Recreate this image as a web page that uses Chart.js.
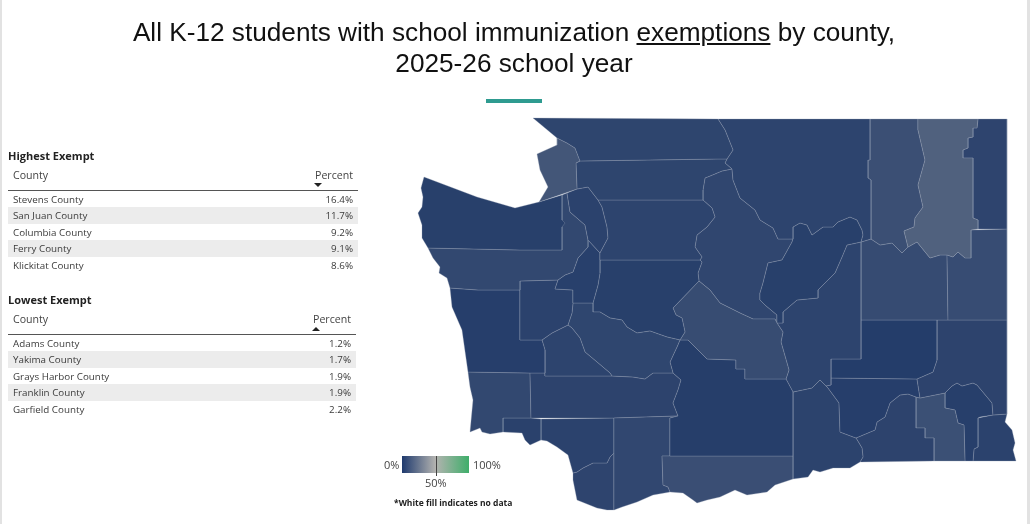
<!DOCTYPE html>
<html><head><meta charset="utf-8">
<script src="https://cdn.jsdelivr.net/npm/chart.js@4"></script>
<style>
html,body{margin:0;padding:0;background:#fff;width:1030px;height:524px;overflow:hidden;font-family:"Open Sans",sans-serif}
#frame{position:absolute;left:0;top:0;width:1030px;height:524px;box-sizing:border-box;border-left:2px solid #e2e2e2;border-right:3px solid #e2e2e2}
canvas{position:absolute;left:0;top:0}
.title{position:absolute;left:0;width:1028px;text-align:center;font-family:"Liberation Sans",sans-serif;font-size:26.2px;color:#111;line-height:32px}
#bar{position:absolute;left:486px;top:99px;width:56px;height:4px;background:#2e9b90}
.tbl{position:absolute;left:8px;color:#333;font-size:9.8px}
.tbl h3{margin:0;font-size:11px;color:#222;font-weight:700;line-height:14px}
.head{position:relative;height:27px;border-bottom:1px solid #555;font-size:10.6px;color:#444}
.head span{position:absolute;top:5px}
.head .c{left:5px}.head .p{right:5px}
.head i{position:absolute;right:36px;top:20px;width:0;height:0;border-left:4px solid transparent;border-right:4px solid transparent}
.row{position:relative;height:16.4px;line-height:18px;padding:0 5px;color:#3a3a3a}
.row:nth-of-type(even){background:#ececec}
.row b{position:absolute;right:5px;font-weight:400}
.leg{position:absolute;font-size:11px;color:#444}
#grad{position:absolute;left:402px;top:456px;width:67px;height:17px;background:linear-gradient(90deg,#1f3a6e,#b3b3b0 50%,#3fae6a)}
#tick{position:absolute;left:436px;top:456px;width:1px;height:20px;background:#444}
</style></head><body>
<div id="frame"></div>
<canvas id="map" width="1030" height="524"></canvas>
<div class="title" style="top:16px">All K-12 students with school immunization <u>exemptions</u> by county,</div>
<div class="title" style="top:47px">2025-26 school year</div>
<div id="bar"></div>
<div class="tbl" id="hi" style="top:149px;width:350px"></div>
<div class="tbl" id="lo" style="top:293px;width:348px"></div>
<div id="grad"></div><div id="tick"></div>
<div class="leg" style="left:384px;top:457px">0%</div>
<div class="leg" style="left:473px;top:457px">100%</div>
<div class="leg" style="left:425px;top:475px">50%</div>
<div class="leg" style="left:394px;top:497px;font-size:8.5px;font-weight:700;color:#222">*White fill indicates no data</div>
<script>
const highNames=["Stevens County","San Juan County","Columbia County","Ferry County","Klickitat County"];
const highValues=[16.4,11.7,9.2,9.1,8.6];
const lowNames=["Adams County","Yakima County","Grays Harbor County","Franklin County","Garfield County"];
const lowValues=[1.2,1.7,1.9,1.9,2.2];

const whatcom=[[533,118],[718,119],[725,130],[733,150],[727,159],[717,159],[580,161],[575,148],[567,143],[557,138]];
const sanJuan=[[557,138],[557,145],[537,154],[540,170],[548,187],[539,202],[577,189],[576,163],[580,161],[575,148],[567,143]];
const skagit=[[577,189],[576,163],[580,161],[717,159],[727,159],[725,163],[732,169],[722,171],[710,176],[705,178],[703,190],[703,200],[598,200],[588,187]];
const snohomish=[[598,200],[703,200],[712,208],[715,217],[707,227],[697,235],[695,247],[702,257],[700,260],[600,260],[600,253],[608,238],[607,227],[602,207]];
const island=[[577,189],[588,187],[598,200],[602,207],[607,227],[608,238],[600,253],[588,240],[585,225],[570,212],[567,193]];
const clallam=[[424,177],[477,197],[515,208],[539,202],[562,195],[562,220],[565,223],[562,227],[562,250],[520,250],[428,248],[422,238],[422,225],[418,213],[422,207],[423,197],[421,188]];
const jefferson=[[428,248],[520,250],[562,250],[562,195],[567,193],[570,212],[585,225],[588,240],[588,247],[578,258],[573,272],[565,275],[558,280],[520,281],[520,290],[478,290],[450,288],[447,278],[439,273],[440,267],[433,258]];
const kitsap=[[588,240],[600,253],[600,260],[600,273],[598,285],[593,303],[573,303],[573,290],[555,289],[558,280],[565,275],[573,272],[578,258],[588,247]];
const mason=[[520,281],[558,280],[555,289],[573,290],[573,303],[572,313],[568,325],[562,328],[552,333],[542,340],[520,340]];
const graysHarbor=[[450,288],[478,290],[520,290],[520,340],[542,340],[545,350],[545,373],[530,373],[468,372],[462,330],[452,307]];
const thurston=[[542,340],[552,333],[562,328],[568,325],[572,328],[580,338],[585,352],[597,362],[610,373],[612,376],[545,376],[545,350]];
const pierce=[[573,303],[593,303],[593,312],[600,312],[610,318],[622,320],[627,327],[637,333],[650,331],[667,337],[680,340],[677,347],[670,362],[673,373],[653,373],[645,379],[633,377],[612,376],[610,373],[597,362],[585,352],[580,338],[572,328],[568,325],[572,313]];
const king=[[600,260],[700,260],[702,262],[698,273],[699,281],[673,308],[676,315],[682,318],[685,332],[680,340],[667,337],[650,331],[637,333],[627,327],[622,320],[610,318],[600,312],[593,312],[593,303],[598,285],[600,273]];
const kittitas=[[699,281],[710,290],[720,303],[740,313],[753,319],[775,319],[777,323],[783,332],[781,342],[787,363],[789,370],[786,379],[745,379],[745,369],[736,369],[736,360],[707,359],[688,340],[680,340],[685,332],[682,318],[676,315],[673,308]];
const yakima=[[680,340],[688,340],[707,359],[736,360],[736,369],[745,369],[745,379],[786,379],[793,392],[793,456],[670,456],[670,418],[678,416],[673,403],[678,390],[681,380],[673,373],[670,362],[677,347]];
const klickitat=[[662,456],[793,456],[793,479],[775,485],[767,492],[747,495],[735,490],[720,497],[707,500],[697,503],[693,500],[683,493],[670,492],[668,487],[663,485]];
const skamania=[[614,418],[678,416],[670,418],[670,456],[662,456],[663,485],[668,487],[670,492],[653,495],[637,502],[622,507],[614,510]];
const lewis=[[530,373],[545,373],[545,376],[612,376],[633,377],[645,379],[653,373],[673,373],[681,380],[678,390],[673,403],[678,416],[614,418],[531,418]];
const pacific=[[468,372],[530,373],[531,418],[503,418],[503,432],[490,434],[482,432],[480,428],[470,432],[473,400],[470,387]];
const wahkiakum=[[503,418],[531,418],[541,419],[541,440],[530,445],[525,440],[522,433],[503,432]];
const cowlitz=[[541,419],[614,418],[614,453],[610,457],[607,463],[593,463],[583,468],[577,472],[573,473],[568,455],[557,447],[547,441],[541,440]];
const clark=[[614,453],[614,510],[607,510],[597,508],[577,500],[575,490],[573,480],[573,473],[577,472],[583,468],[593,463],[607,463],[610,457]];
const okanogan=[[718,119],[870,119],[870,160],[868,160],[868,178],[871,180],[871,239],[861,242],[863,235],[862,230],[857,220],[850,217],[838,222],[833,227],[823,227],[812,235],[807,225],[800,223],[793,227],[793,239],[778,239],[773,228],[760,220],[755,210],[740,198],[733,180],[732,169],[725,163],[727,159],[733,150],[725,130]];
const douglas=[[793,227],[800,223],[807,225],[812,235],[823,227],[833,227],[838,222],[850,217],[857,220],[862,230],[863,235],[861,242],[847,245],[842,257],[835,273],[818,290],[818,298],[797,300],[783,312],[783,323],[777,323],[777,315],[765,305],[760,300],[760,293],[763,283],[768,263],[782,260],[792,242],[793,239]];
const chelan=[[710,176],[722,171],[732,169],[733,180],[740,198],[755,210],[760,220],[773,228],[778,239],[793,239],[792,242],[782,260],[768,263],[763,283],[760,293],[760,300],[765,305],[777,315],[777,323],[775,319],[753,319],[740,313],[720,303],[710,290],[699,281],[698,273],[702,262],[700,260],[702,257],[695,247],[697,235],[707,227],[715,217],[712,208],[703,200],[703,190],[705,178]];
const grant=[[777,323],[783,323],[783,312],[797,300],[818,298],[818,290],[835,273],[842,257],[847,245],[861,242],[861,359],[831,359],[831,385],[826,386],[820,380],[812,388],[793,392],[786,379],[789,370],[787,363],[781,342],[783,332]];
const stevens=[[918,119],[978,119],[977,128],[973,128],[973,137],[968,138],[968,148],[963,150],[963,158],[973,158],[973,218],[978,220],[978,229],[971,230],[971,258],[965,258],[958,252],[953,257],[947,255],[940,255],[930,258],[917,242],[908,247],[904,231],[914,227],[915,218],[923,207],[918,185],[925,160],[918,130]];
const ferry=[[870,119],[918,119],[918,130],[925,160],[918,185],[923,207],[915,218],[914,227],[904,231],[908,247],[902,253],[892,243],[880,245],[871,239],[871,180],[868,178],[868,160],[870,160]];
const pendOreille=[[978,119],[1007,119],[1007,229],[978,229],[978,220],[973,218],[973,158],[963,158],[963,150],[968,148],[968,138],[973,137],[973,128],[977,128]];
const spokane=[[947,255],[953,257],[958,252],[965,258],[971,258],[971,230],[1007,229],[1007,320],[948,320]];
const lincoln=[[861,242],[871,239],[880,245],[892,243],[902,253],[908,247],[917,242],[930,258],[940,255],[947,255],[948,320],[861,320]];
const adams=[[861,320],[937,320],[937,360],[933,372],[917,379],[831,378],[831,359],[861,359]];
const whitman=[[937,320],[1007,320],[1007,414],[993,415],[992,403],[977,385],[973,383],[962,386],[957,383],[952,386],[945,393],[920,398],[917,379],[933,372],[937,360]];
const franklin=[[831,378],[917,379],[920,398],[916,397],[908,394],[900,395],[890,403],[885,417],[877,422],[875,430],[856,438],[840,432],[839,403],[828,388],[826,386],[831,385]];
const benton=[[793,392],[812,388],[820,380],[826,386],[828,388],[839,403],[840,432],[856,438],[862,448],[863,457],[860,462],[850,468],[833,468],[820,472],[813,470],[808,477],[793,479]];
const wallaWalla=[[856,438],[875,430],[877,422],[885,417],[890,403],[900,395],[908,394],[916,397],[916,428],[925,428],[925,438],[934,438],[934,461],[860,462],[863,457],[862,448]];
const columbia=[[916,397],[920,398],[945,393],[945,408],[955,410],[958,423],[964,425],[965,461],[934,461],[934,438],[925,438],[925,428],[916,428]];
const garfield=[[945,393],[952,386],[957,383],[962,386],[973,383],[977,385],[992,403],[993,415],[980,417],[978,418],[978,447],[974,449],[973,461],[965,461],[964,425],[958,423],[955,410],[945,408]];
const asotin=[[978,418],[993,415],[1007,414],[1005,422],[1012,430],[1015,443],[1013,450],[1016,461],[973,461],[974,449],[978,447]];

const counties=[
 [whatcom,4.6],[sanJuan,11.7],[skagit,4.6],[snohomish,4.2],[island,3.4],[clallam,2.4],[jefferson,5.8],[kitsap,2.6],[mason,3.6],
 [graysHarbor,1.9],[thurston,4.2],[pierce,5.0],[king,2.4],[kittitas,7.6],[yakima,1.7],[klickitat,8.6],[skamania,5.6],[lewis,4.0],
 [pacific,5.8],[wahkiakum,3.0],[cowlitz,3.6],[clark,4.4],[okanogan,4.2],[douglas,2.5],[chelan,5.2],[grant,4.2],[stevens,16.4],
 [ferry,9.1],[pendOreille,4.4],[spokane,7.8],[lincoln,7.4],[adams,1.2],[whitman,4.0],[franklin,1.9],[benton,3.8],[wallaWalla,4.0],
 [columbia,9.2],[garfield,2.2],[asotin,3.6]
];
const scaleLow=[33,58,104], scaleMid=[177,176,172];
function shade(v){const t=v/50;return 'rgb('+scaleLow.map((c,i)=>Math.round(c+(scaleMid[i]-c)*t)).join(',')+')';}

new Chart(document.getElementById('map'),{
 type:'scatter',
 data:{datasets:counties.map(([pts,v])=>({
   data:[...pts,pts[0]].map(([x,y])=>({x,y})),
   showLine:true,tension:0,pointRadius:0,borderWidth:1,
   borderColor:'rgba(150,160,178,.3)',backgroundColor:shade(v),fill:'shape'}))},
 options:{responsive:false,animation:false,layout:{padding:0},
  plugins:{legend:{display:false},tooltip:{enabled:false},title:{display:false}},
  scales:{x:{type:'linear',min:0,max:1030,display:false},y:{type:'linear',min:0,max:524,reverse:true,display:false}}}
});

function table(id,title,names,vals,up){
 const el=document.getElementById(id);
 const tri=up?'border-bottom:4px solid #222':'border-top:4px solid #222';
 let h='<h3>'+title+'</h3><div class="head"><span class="c">County</span><span class="p">Percent</span><i style="'+tri+'"></i></div><div>';
 names.forEach((n,i)=>{h+='<div class="row">'+n+'<b>'+vals[i].toFixed(1)+'%</b></div>';});
 el.innerHTML=h+'</div>';
}
table('hi','Highest Exempt',highNames,highValues,false);
table('lo','Lowest Exempt',lowNames,lowValues,true);
</script>
</body></html>
